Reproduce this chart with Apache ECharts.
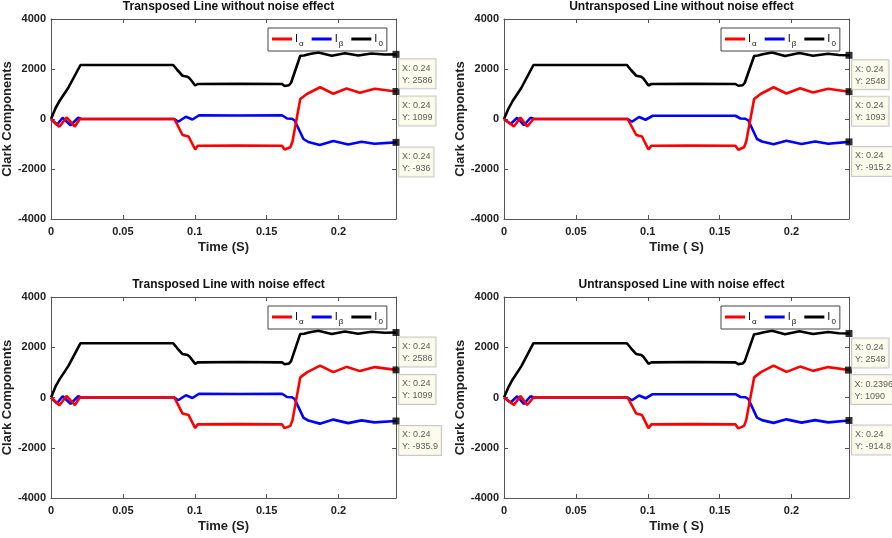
<!DOCTYPE html>
<html>
<head>
<meta charset="utf-8">
<script src="https://cdn.jsdelivr.net/npm/echarts@6/dist/echarts.min.js"></script>
<style>
  html, body { margin: 0; padding: 0; background: #fff; }
  #chart { width: 892px; height: 538px; }
</style>
</head>
<body>
<div id="chart"></div>
<script>
// panel titles and axis names
const titles = [
  'Transposed Line without noise effect',
  'Untransposed Line without noise effect',
  'Transposed Line with noise effect',
  'Untransposed Line with noise effect'
];
const xNames = ['Time (S)', 'Time ( S)', 'Time (S)', 'Time ( S)'];
const yName = 'Clark Components';

// transposed line: [time, value]
const trI0 = [[0,0],[0.003,420],[0.006,730],[0.012,1250],[0.0205,2160],[0.085,2160],[0.088,1950],[0.0915,1730],
  [0.095,1690],[0.0965,1620],[0.1003,1340],[0.102,1400],[0.13,1410],[0.1607,1400],[0.1625,1320],[0.1655,1350],
  [0.167,1450],[0.1734,2530],[0.176,2540],[0.18,2600],[0.186,2660],[0.1953,2530],[0.2045,2630],[0.2137,2540],
  [0.2229,2620],[0.232,2580],[0.24,2586]];
const trIa = [[0,0],[0.0058,-310],[0.0108,60],[0.0166,-300],[0.02,0],[0.0858,0],[0.0915,-640],[0.0957,-700],
  [0.1003,-1220],[0.102,-1070],[0.13,-1060],[0.1607,-1070],[0.1625,-1220],[0.1665,-1130],[0.168,-900],
  [0.1734,800],[0.178,1000],[0.1872,1270],[0.1964,1010],[0.2056,1220],[0.2149,1050],[0.2253,1210],[0.24,1099]];
const trIb = [[0,0],[0.0041,-230],[0.0081,50],[0.0136,-250],[0.0189,50],[0.021,0],[0.0858,0],[0.0885,-110],
  [0.0938,90],[0.0984,-20],[0.103,150],[0.13,140],[0.1607,150],[0.1642,20],[0.1676,10],[0.1695,-60],
  [0.1756,-800],[0.179,-920],[0.187,-1040],[0.1964,-880],[0.2068,-1020],[0.216,-910],[0.225,-990],[0.24,-936]];

// untransposed line: [time, value]
const unI0 = [[0,0],[0.003,400],[0.006,720],[0.012,1240],[0.0205,2160],[0.0855,2160],[0.0885,1950],[0.092,1730],
  [0.0955,1690],[0.097,1620],[0.1005,1340],[0.1025,1400],[0.13,1410],[0.161,1400],[0.163,1330],[0.166,1350],
  [0.1675,1450],[0.174,2520],[0.1765,2540],[0.18,2590],[0.1865,2660],[0.1955,2520],[0.2055,2640],[0.215,2530],
  [0.2255,2610],[0.233,2560],[0.24,2548]];
const unIa = [[0,0],[0.0069,-300],[0.0115,60],[0.0161,-300],[0.0205,0],[0.086,0],[0.092,-640],[0.096,-700],
  [0.1005,-1220],[0.1025,-1070],[0.13,-1060],[0.161,-1070],[0.163,-1230],[0.167,-1130],[0.1685,-900],
  [0.174,800],[0.1785,1000],[0.1875,1270],[0.1965,1020],[0.206,1230],[0.215,1060],[0.2255,1210],[0.24,1093]];
const unIb = [[0,0],[0.0046,-200],[0.0092,50],[0.0138,-250],[0.0185,50],[0.021,0],[0.086,0],[0.089,-110],
  [0.094,80],[0.0985,-30],[0.1035,130],[0.13,130],[0.161,130],[0.1645,20],[0.168,10],[0.170,-60],
  [0.176,-800],[0.1795,-900],[0.1875,-1010],[0.1965,-870],[0.207,-1000],[0.2165,-900],[0.2255,-990],[0.24,-915.2]];

// data tips: [x, y] for I0, Ia, Ib
const tips = [
  [[0.24, 2586], [0.24, 1099], [0.24, -936]],
  [[0.24, 2548], [0.24, 1093], [0.24, -915.2]],
  [[0.24, 2586], [0.24, 1099], [0.24, -935.9]],
  [[0.24, 2548], [0.2396, 1090], [0.24, -914.8]]
];

const panelData = [
  [trIa, trIb, trI0],
  [unIa, unIb, unI0],
  [trIa, trIb, trI0],
  [unIa, unIb, unI0]
];
const names = ['Iα', 'Iβ', 'I0'];
const colors = ['#ff0000', '#0000ff', '#000000'];

const font = 'Liberation Sans, Arial, sans-serif';
const boxes = [
  { left: 51, top: 19, height: 200 },
  { left: 504, top: 19, height: 200 },
  { left: 51, top: 297, height: 201 },
  { left: 504, top: 297, height: 201 }
];
const plotW = 345;

let myChart = echarts.init(document.getElementById('chart'));

let grid = [], xAxis = [], yAxis = [], series = [], title = [], legend = [];

boxes.forEach(function (b, g) {
  grid.push({ left: b.left, top: b.top, width: plotW, height: b.height, show: false });

  title.push({
    text: titles[g],
    left: b.left + plotW / 2,
    top: b.top - 23,
    textAlign: 'center',
    textStyle: { fontSize: 12, fontWeight: 'bold', color: '#111', fontFamily: font }
  });

  legend.push({
    data: names,
    left: b.left + 217,
    top: b.top + 9,
    orient: 'horizontal',
    icon: 'rect',
    itemWidth: 20,
    itemHeight: 3,
    itemGap: 8,
    padding: [3, 4, 3, 4],
    backgroundColor: '#fff',
    borderColor: '#444',
    borderWidth: 1,
    selectedMode: false,
    formatter: function (n) {
      return '{m|I}{s|' + n.slice(1) + '}';
    },
    textStyle: {
      fontFamily: font,
      padding: [0, 0, 0, -2],
      rich: {
        m: { fontSize: 11, color: '#111', lineHeight: 18, verticalAlign: 'middle' },
        s: { fontSize: 8, color: '#111', lineHeight: 18, verticalAlign: 'bottom', padding: [9, 0, 0, 1] }
      }
    }
  });

  let axisLine = { show: true, onZero: false, lineStyle: { color: '#555', width: 1 } };
  let tick = { show: true, inside: true, length: 4, lineStyle: { color: '#555' } };

  xAxis.push({
    gridIndex: g, type: 'value', min: 0, max: 0.24, interval: 0.05,
    position: 'bottom',
    name: xNames[g], nameLocation: 'middle', nameGap: 22,
    nameTextStyle: { fontSize: 13, fontWeight: 'bold', color: '#222', fontFamily: font },
    axisLine: axisLine, axisTick: tick, splitLine: { show: false },
    axisLabel: {
      showMaxLabel: false, margin: 7, fontSize: 11, fontWeight: 'bold', color: '#222', fontFamily: font,
      formatter: function (v) { return String(+v.toFixed(2)); }
    }
  });
  xAxis.push({
    gridIndex: g, type: 'value', min: 0, max: 0.24, interval: 0.05, position: 'top',
    axisLine: axisLine, axisTick: tick, axisLabel: { show: false }, splitLine: { show: false }
  });

  yAxis.push({
    gridIndex: g, type: 'value', min: -4000, max: 4000, interval: 2000,
    position: 'left',
    name: yName, nameLocation: 'middle', nameGap: 36,
    nameTextStyle: { fontSize: 13, fontWeight: 'bold', color: '#222', fontFamily: font },
    axisLine: axisLine, axisTick: tick, splitLine: { show: false },
    axisLabel: {
      margin: 5, fontSize: 11, fontWeight: 'bold', color: '#222', fontFamily: font,
      formatter: function (v) { return String(v); }
    }
  });
  yAxis.push({
    gridIndex: g, type: 'value', min: -4000, max: 4000, interval: 2000, position: 'right',
    axisLine: axisLine, axisTick: tick, axisLabel: { show: false }, splitLine: { show: false }
  });

  panelData[g].forEach(function (d, k) {
    series.push({
      name: names[k], type: 'line', xAxisIndex: 2 * g, yAxisIndex: 2 * g,
      data: d, showSymbol: false, symbol: 'none',
      lineStyle: { color: colors[k], width: 2.6 }, itemStyle: { color: colors[k] },
      z: 5 - k, animation: false
    });
  });

  // data tip markers, order: I0, Ia, Ib
  series.push({
    type: 'scatter', xAxisIndex: 2 * g, yAxisIndex: 2 * g,
    data: tips[g], symbol: 'rect', symbolSize: 7, clip: false, z: 10,
    itemStyle: { color: '#000' },
    label: {
      show: true, position: [6.5, 8.5],
      formatter: function (p) { return 'X: ' + p.value[0] + '\nY: ' + p.value[1]; },
      fontSize: 9, lineHeight: 12, color: '#333', fontFamily: font,
      backgroundColor: '#fbfbe8', borderColor: '#bbb', borderWidth: 1, padding: [3, 3, 2, 3]
    },
    animation: false, silent: true
  });
});

myChart.setOption({
  backgroundColor: '#fff',
  animation: false,
  title: title,
  legend: legend,
  grid: grid,
  xAxis: xAxis,
  yAxis: yAxis,
  series: series
});
</script>
</body>
</html>
